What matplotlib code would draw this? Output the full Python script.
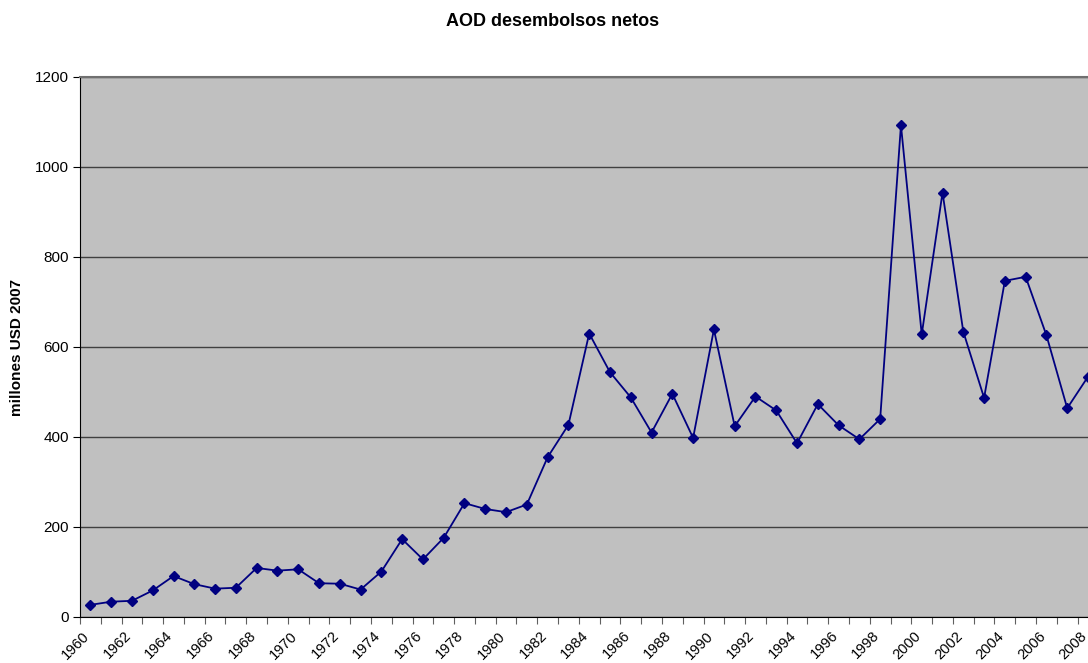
import matplotlib.pyplot as plt
import matplotlib.transforms as mtransforms
import numpy as np

plt.rcParams['font.family'] = ['Liberation Sans', 'DejaVu Sans']

# AOD desembolsos netos, millones USD 2007
years = np.arange(1960, 2009)
aod = [27, 34, 36, 59, 91, 73, 63, 65, 109, 103,
       106, 75, 74, 61, 101, 173, 128, 176, 253, 240,
       233, 250, 355, 427, 630, 544, 488, 410, 496, 398,
       639, 424, 490, 459, 386, 473, 426, 395, 440, 1093,
       628, 943, 634, 487, 747, 756, 626, 464, 534]
yticks = [0, 200, 400, 600, 800, 1000, 1200]

fig = plt.figure(figsize=(10.88, 6.63), dpi=100)
ax = fig.add_axes([80 / 1088, 46 / 663, 1 - 80 / 1088, 540 / 663])
ax.set_facecolor('#C0C0C0')

ax.plot(years, aod, color='#000080', linewidth=1.3, marker='D',
        markersize=5.5, markerfacecolor='#000080', markeredgecolor='#000080',
        zorder=3)

ax.set_ylim(0, 1200)
ax.set_yticks(yticks)
ax.set_xlim(1959.5, 2007.97)

# ticks between categories, labels on every second year
ax.set_xticks(np.arange(1959.5, 2008.5, 1.0))
ax.set_xticklabels([])
ax.set_xticks(years[::2], minor=True)
ax.set_xticklabels([str(y) for y in years[::2]], minor=True,
                   rotation=45, ha='right', va='top', rotation_mode='anchor',
                   fontsize=10.5)
ax.tick_params(axis='x', which='major', length=5, width=0.8, color='#606060',
               direction='out')
ax.tick_params(axis='x', which='minor', length=0, pad=7)
ax.tick_params(axis='y', length=5, width=0.8, labelsize=11, direction='out', pad=3)

# nudge the slanted year labels left
shift = mtransforms.ScaledTranslation(-8 / 100, -2 / 100, fig.dpi_scale_trans)
for lab in ax.get_xticklabels(minor=True):
    lab.set_transform(lab.get_transform() + shift)

ax.yaxis.grid(True, color='#404040', linewidth=1)
ax.set_axisbelow(True)

ax.spines['left'].set_color('black')
ax.spines['bottom'].set_color('black')
ax.spines['top'].set_color('#707070')
ax.spines['top'].set_linewidth(1.5)
ax.spines['right'].set_visible(False)

fig.text(17 / 1088, 1 - 347 / 663, 'millones USD 2007', rotation=90,
         ha='center', va='center', fontsize=11, fontweight='bold')
fig.text(553 / 1088, 1 - 21 / 663, 'AOD desembolsos netos', ha='center',
         va='center', fontsize=13, fontweight='bold')

fig.savefig('out.png', dpi=100)
